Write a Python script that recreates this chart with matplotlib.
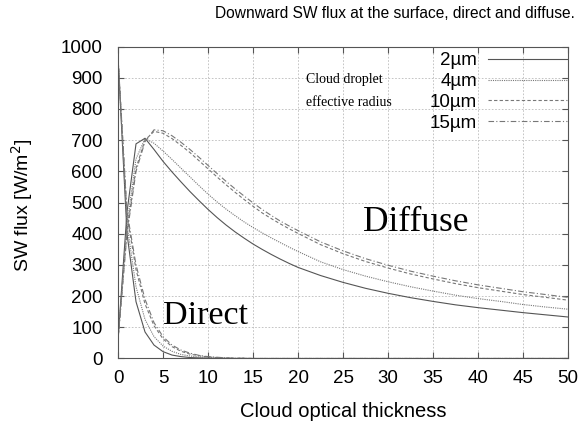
import matplotlib
matplotlib.use("Agg")
import matplotlib.pyplot as plt

# cloud optical thickness samples
tau = list(range(0, 21)) + [22.5, 25, 27.5, 30, 32.5, 35, 37.5, 40, 42.5, 45, 47.5, 50]

radii = ["2µm", "4µm", "10µm", "15µm"]

# diffuse flux [W/m2]
diffuse_2 = [60, 470, 688, 706, 670, 632, 598, 566, 535, 506, 478, 452, 428, 406, 386, 367, 350, 334, 319, 305, 292,
             266, 244, 225, 209, 195, 183, 172, 163, 155, 147, 140, 133]
diffuse_4 = [60, 430, 640, 705, 690, 665, 638, 610, 582, 554, 527, 502, 479, 458, 438, 420, 403, 387, 372, 357, 343,
             310, 285, 264, 246, 230, 216, 203, 192, 183, 173, 165, 158]
diffuse_10 = [60, 410, 610, 700, 728, 722, 705, 683, 660, 634, 608, 582, 557, 533, 510, 488, 467, 449, 432, 416, 401,
              365, 336, 311, 290, 271, 255, 240, 227, 216, 205, 196, 187]
diffuse_15 = [60, 400, 600, 695, 733, 730, 714, 693, 670, 645, 619, 593, 568, 544, 521, 499, 478, 459, 441, 425, 410,
              374, 345, 320, 299, 280, 264, 249, 236, 225, 214, 205, 196]

# direct flux [W/m2]
direct_2 = [965, 400, 182, 85, 43, 22, 11, 6, 3, 2, 1] + [0] * 22
direct_4 = [965, 430, 230, 125, 70, 40, 23, 13, 8, 5, 3, 2, 1] + [0] * 20
direct_10 = [965, 460, 285, 175, 105, 63, 38, 23, 14, 9, 5, 3, 2, 1, 1] + [0] * 18
direct_15 = [965, 470, 300, 190, 115, 70, 43, 27, 17, 10, 6, 4, 2, 1, 1] + [0] * 18

diffuse = [diffuse_2, diffuse_4, diffuse_10, diffuse_15]
direct = [direct_2, direct_4, direct_10, direct_15]

styles = [
    dict(color="#555555", linestyle="-", linewidth=0.8),
    dict(color="#777777", linestyle=(0, (1, 1)), linewidth=0.8),
    dict(color="#777777", linestyle=(0, (3, 2)), linewidth=0.8),
    dict(color="#777777", linestyle=(0, (5, 2, 1, 2)), linewidth=0.8),
]

plt.rcParams["font.family"] = ["Liberation Sans", "DejaVu Sans"]

fig = plt.figure(figsize=(5.88, 4.23), dpi=100)
ax = fig.add_axes([0.2007, 0.1525, 0.7653, 0.7375])

for lab, d, s, st in zip(radii, diffuse, direct, styles):
    ax.plot(tau, d, label=lab, **st)
    ax.plot(tau, s, **st)

ax.set_xlim(0, 50)
ax.set_ylim(0, 1000)
ax.set_xticks(range(0, 51, 5))
ax.set_yticks(range(0, 1001, 100))
ax.tick_params(direction="in", top=True, right=True, labelsize=13.5,
               length=4, color="#555555")
ax.tick_params(axis="y", pad=11)
ax.tick_params(axis="x", pad=8)
for sp in ax.spines.values():
    sp.set_color("#555555")
ax.grid(True, color="#bbbbbb", linestyle=(0, (2, 2)), linewidth=0.6)

ax.set_xlabel("Cloud optical thickness", fontsize=14.5, va="top")
ax.set_ylabel("SW flux [W/m$^2$]", fontsize=14)
ax.xaxis.set_label_coords(0.501, -0.139)
ax.yaxis.set_label_coords(-0.185, 0.49)
fig.text(0.672, 0.968, "Downward SW flux at the surface, direct and diffuse.",
         ha="center", va="center", fontsize=11.2)

ax.text(27.2, 437, "Diffuse", family="Liberation Serif", fontsize=25.5, va="center")
ax.text(5.0, 136, "Direct", family="Liberation Serif", fontsize=24.5, va="center")
ax.text(20.9, 895, "Cloud droplet", family="Liberation Serif", fontsize=10, va="center")
ax.text(20.9, 822, "effective radius", family="Liberation Serif", fontsize=10, va="center")

ax.legend(loc="upper right", frameon=False, markerfirst=False, fontsize=13.5,
          handlelength=4.2, handletextpad=0.6, labelspacing=0.2,
          borderaxespad=0.0, borderpad=0.3, bbox_to_anchor=(1.01, 1.0))

fig.savefig("out.png", dpi=100)
